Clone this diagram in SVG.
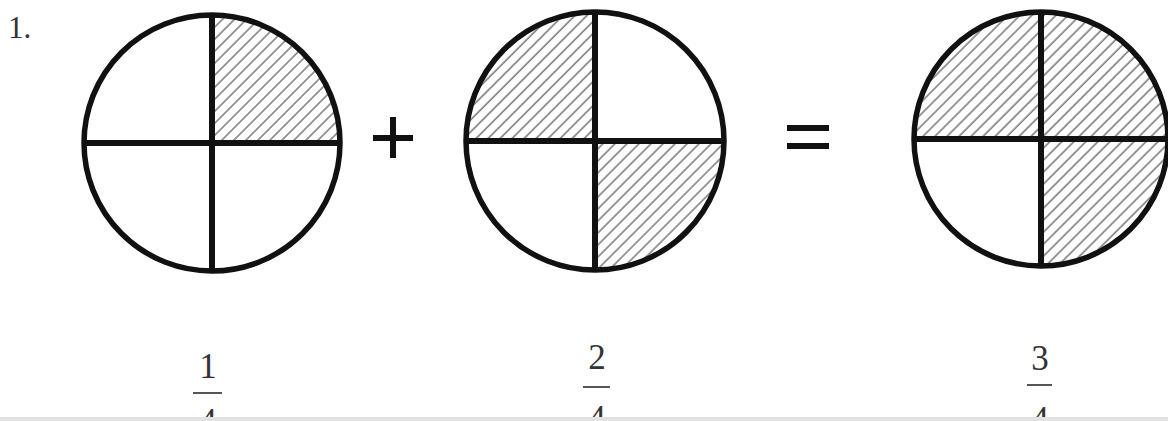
<svg xmlns="http://www.w3.org/2000/svg" width="1168" height="421" viewBox="0 0 1168 421">
<style>
.ring{fill:none;stroke:#111;stroke-width:5.5}
.cross{stroke:#111;stroke-width:6}
.hatch{fill:url(#h)}
.num{font-family:"Liberation Serif",serif;font-size:35px;fill:#333;text-anchor:middle}
.bar{stroke:#555;stroke-width:2}
.op{stroke:#111;stroke-width:6}
</style>
<defs>
<pattern id="h" patternUnits="userSpaceOnUse" width="8.5" height="8.5" patternTransform="rotate(45)">
<line x1="1" y1="0" x2="1" y2="8.5" stroke="#555" stroke-width="1.2"/>
</pattern>
</defs>
<rect width="1168" height="421" fill="#fff"/>
<text x="8" y="38" font-family="Liberation Serif, serif" font-size="31" fill="#333">1.</text>
<g id="circle1">
<path class="hatch" d="M212,143 L212,15 A128,128 0 0 1 340,143 Z"/>
<circle class="ring" cx="212" cy="143" r="128"/>
<line class="cross" x1="212" y1="15" x2="212" y2="271"/>
<line class="cross" x1="84" y1="143" x2="340" y2="143"/>
</g>
<g id="plus">
<line class="op" x1="373" y1="138" x2="413" y2="138"/>
<line class="op" x1="393" y1="117" x2="393" y2="158"/>
</g>
<g id="circle2">
<path class="hatch" d="M595,141 L595,12 A129,129 0 0 0 466,141 Z"/>
<path class="hatch" d="M595,141 L724,141 A129,129 0 0 1 595,270 Z"/>
<circle class="ring" cx="595" cy="141" r="129"/>
<line class="cross" x1="595" y1="12" x2="595" y2="270"/>
<line class="cross" x1="466" y1="141" x2="724" y2="141"/>
</g>
<g id="equals">
<line class="op" x1="787" y1="128" x2="829" y2="128"/>
<line class="op" x1="787" y1="146" x2="829" y2="146"/>
</g>
<g id="circle3">
<path class="hatch" d="M1041,139 L1041,11 A128,128 0 0 0 913,139 Z"/>
<path class="hatch" d="M1041,139 L1041,11 A128,128 0 0 1 1169,139 Z"/>
<path class="hatch" d="M1041,139 L1169,139 A128,128 0 0 1 1041,267 Z"/>
<circle class="ring" cx="1041" cy="139" r="127"/>
<line class="cross" x1="1041" y1="11" x2="1041" y2="267"/>
<line class="cross" x1="913" y1="139" x2="1168" y2="139"/>
</g>
<g id="frac1">
<text class="num" x="208" y="378">1</text>
<line class="bar" x1="193" y1="393" x2="222" y2="393"/>
<text class="num" x="208" y="433">4</text>
</g>
<g id="frac2">
<text class="num" x="597" y="369">2</text>
<line class="bar" x1="583" y1="387" x2="610" y2="387"/>
<text class="num" x="597" y="430">4</text>
</g>
<g id="frac3">
<text class="num" x="1040" y="370">3</text>
<line class="bar" x1="1027" y1="385" x2="1052" y2="385"/>
<text class="num" x="1040" y="431">4</text>
</g>
<rect x="0" y="417" width="1168" height="4" fill="#e2e2e2"/>
</svg>
